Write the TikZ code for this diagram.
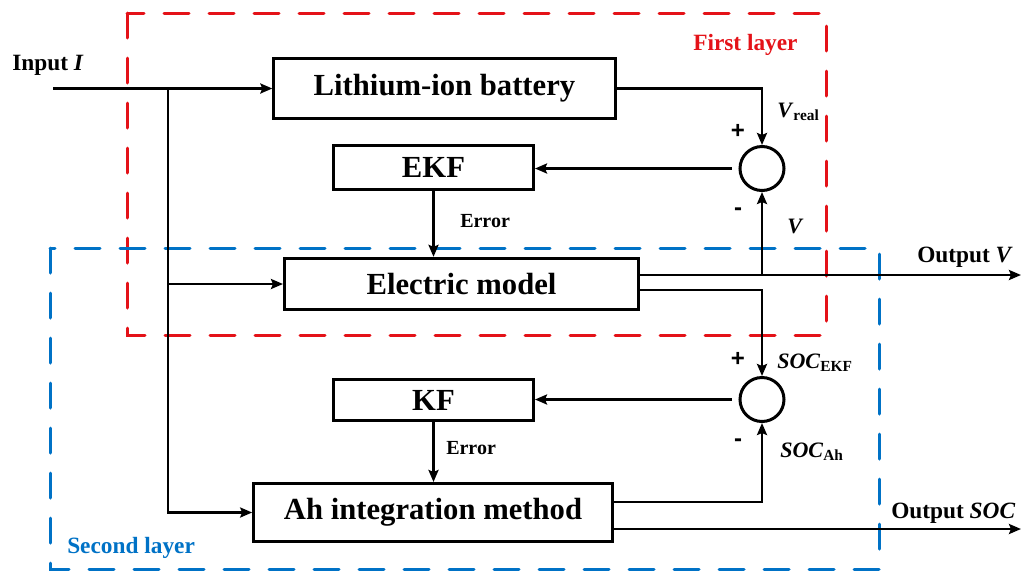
\documentclass[tikz,border=0pt]{standalone}
\usepackage{fontspec}
\setmainfont{Liberation Serif}
\newfontfamily\signfont{Liberation Sans}
\usetikzlibrary{arrows.meta,positioning}
\definecolor{layerred}{RGB}{228,18,24}
\definecolor{layerblue}{RGB}{0,114,198}

\begin{document}
\begin{tikzpicture}[
  x=0.75pt,y=-0.75pt,
  >={Stealth[length=9pt,width=7.5pt,inset=1.5pt]},
  blk/.style={draw,line width=2.25pt,fill=white,inner sep=0pt,font=\fontsize{23}{27}\selectfont\bfseries},
  sumnode/.style={draw,circle,line width=2.25pt,minimum size=33pt,inner sep=0pt},
  ar/.style={->,line width=2.1pt},
  layer/.style={line width=2.25pt,dash pattern=on 18.75pt off 15pt,line cap=round},
  lbl/.style={font=\fontsize{17.5}{20}\selectfont\bfseries,inner sep=0pt,anchor=base west},
  sublbl/.style={font=\fontsize{16.5}{20}\selectfont\bfseries,inner sep=0pt,anchor=base west},
  errlbl/.style={font=\fontsize{15}{18}\selectfont\bfseries,inner sep=0pt,anchor=base west},
  sgn/.style={font=\fontsize{18}{20}\selectfont\signfont\bfseries,inner sep=0pt}
]
\useasboundingbox (0,0) rectangle (1022,572);

% Layer frames
\draw[layer,layerred] (127,13) rectangle (826,335);
\draw[layer,layerblue] (50,248) rectangle (879,569);
\node[lbl,text=layerred] (l1) at (693,50) {First layer};
\node[lbl,text=layerblue] (l2) at (67,553) {Second layer};

% First layer blocks
\node[blk,minimum width=256pt,minimum height=45pt] (bat) at (444.5,88.5) {Lithium-ion battery};
\node[blk,minimum width=150pt,minimum height=33pt] (ekf) at (433.5,167) {EKF};
\node[sumnode] (sum1) at (762,168.5) {};
\node[blk,minimum width=265.5pt,minimum height=38.5pt] (elec) at (461.5,284) {Electric model};

% Second layer blocks
\node[blk,minimum width=150pt,minimum height=31pt] (kf) at (433.5,400) {KF};
\node[sumnode] (sum2) at (762,399.5) {};
\node[blk,minimum width=269pt,minimum height=43.5pt] (ah) at (433,512.5) {Ah integration method};

% Free ends
\coordinate (in) at (53,88.5);
\coordinate (j1) at (168,88.5);
\coordinate (outV) at (1021,275);
\coordinate (outS) at (1021,529);

% Input branches
\draw[ar] (in) -- (bat.west);
\draw[ar] (j1) |- (ah.west);
\draw[ar] (j1 |- elec.west) -- (elec.west);

% Voltage loop
\draw[ar] (bat.east) -| (sum1.north);
\draw[ar,shorten <=5pt] (sum1.west) -- (sum1.west -| ekf.east);
\draw[ar] (ekf.south) -- (ekf.south |- elec.north);
\draw[ar] ([yshift=6.75pt]elec.east) -- (outV);
\draw[ar] (sum1.south |- outV) -- (sum1.south);

% SOC loop
\draw[ar] ([yshift=-4.5pt]elec.east) -| (sum2.north);
\draw[ar,shorten <=5pt] (sum2.west) -- (sum2.west -| kf.east);
\draw[ar] (kf.south) -- (kf.south |- ah.north);
\draw[ar] ([yshift=7.875pt]ah.east) -| (sum2.south);
\draw[ar] ([yshift=-12.375pt]ah.east) -- (outS);

% Labels
\node[lbl] (inlbl) at (12,70) {Input \textit{I}};
\node[lbl] (ovlbl) at (917,262) {Output \textit{V}};
\node[lbl] (oslbl) at (891,518) {Output \textit{SOC}};
\node[errlbl] (e1) at (460,227) {Error};
\node[errlbl] (e2) at (446,454) {Error};
\node[sublbl] (vr) at (777,117) {\textit{V}\textsubscript{real}};
\node[sublbl] (vm) at (787,233) {\textit{V}};
\node[sublbl] (se) at (777,368) {\textit{SOC}\textsubscript{EKF}};
\node[sublbl] (sa) at (780,457) {\textit{SOC}\textsubscript{Ah}};
\node[sgn] (p1) at (738,131) {+};
\node[sgn] (m1) at (738,212) {-};
\node[sgn] (p2) at (738,359) {+};
\node[sgn] (m2) at (738,443) {-};
\end{tikzpicture}
\end{document}
